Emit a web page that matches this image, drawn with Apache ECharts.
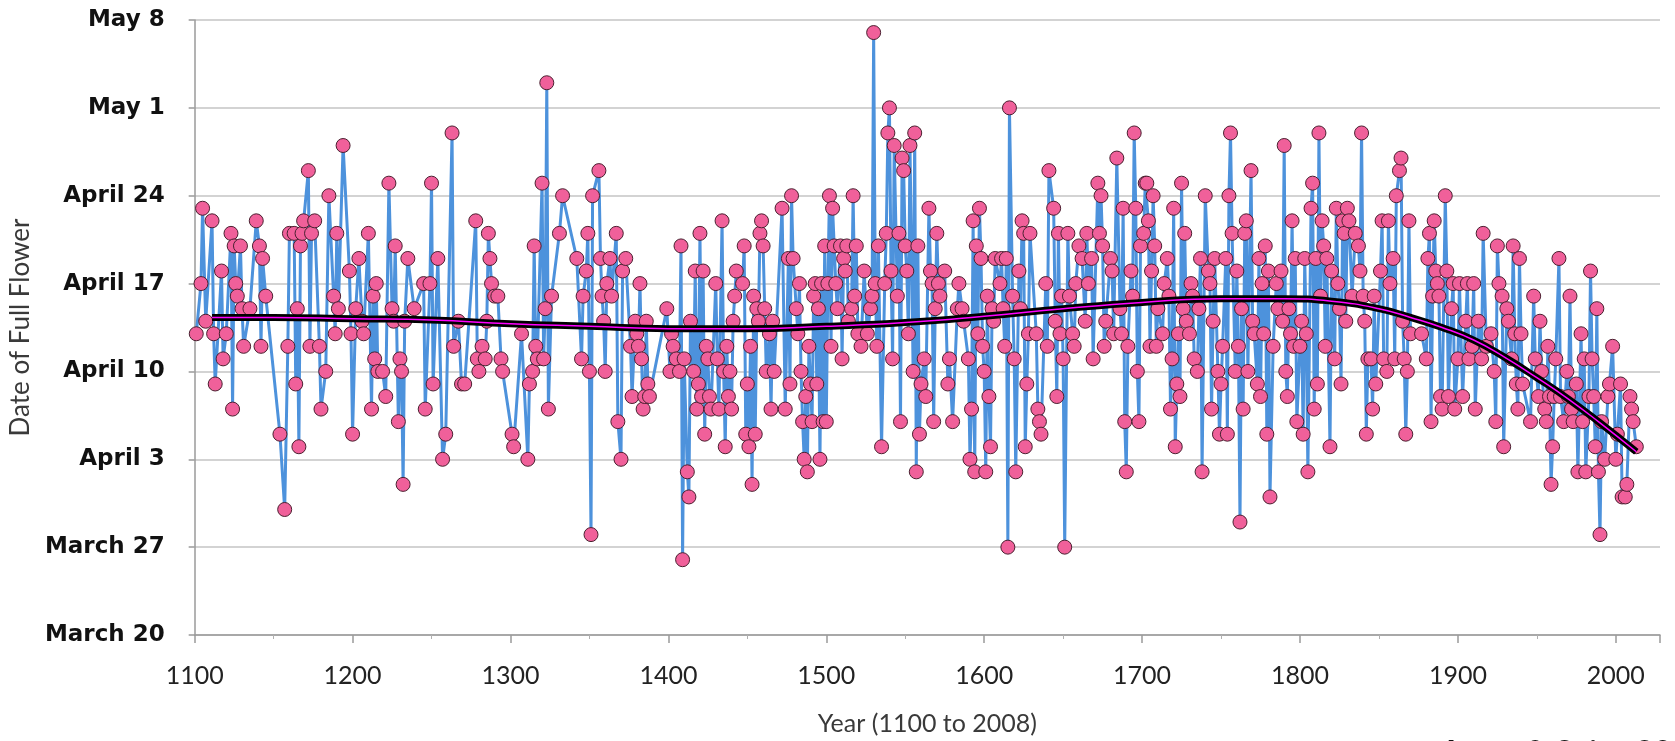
<!DOCTYPE html>
<html>
<head>
<meta charset="utf-8">
<title>Date of Full Flower</title>
<script src="https://cdn.jsdelivr.net/npm/echarts@6/dist/echarts.min.js"></script>
<style>
  html, body { margin: 0; padding: 0; background: #fff; }
  #chart { width: 1675px; height: 741px; }
</style>
</head>
<body>
<div id="chart"></div>
<script>
// y values are days after March 20
const dateLabels = ['March 20', 'March 27', 'April 3', 'April 10', 'April 17', 'April 24', 'May 1', 'May 8']

const years = [
  1101, 1104, 1105, 1107, 1111, 1112, 1113, 1117, 1118, 1120, 1123, 1124, 1125, 1126, 1127, 1129, 1130, 1131, 1135, 1139,
  1141, 1142, 1143, 1145, 1154, 1157, 1159, 1160, 1163, 1164, 1165, 1166, 1167, 1168, 1169, 1172, 1173, 1174, 1176, 1179,
  1180, 1183, 1185, 1188, 1189, 1190, 1191, 1194, 1198, 1199, 1200, 1202, 1204, 1206, 1207, 1210, 1212, 1213, 1214, 1215,
  1216, 1219, 1221, 1223, 1225, 1226, 1227, 1229, 1230, 1231, 1232, 1233, 1235, 1239,
  1245, 1246, 1249, 1250, 1251, 1254, 1257, 1259, 1263, 1264, 1267, 1269, 1271, 1278, 1279, 1280, 1282, 1284, 1285, 1286,
  1287, 1288, 1290, 1292, 1294, 1295, 1301, 1302, 1307, 1311, 1312, 1314, 1315, 1316, 1317, 1320, 1321, 1322, 1323, 1324,
  1326, 1331, 1333, 1342, 1345, 1346, 1348, 1349, 1350, 1351, 1352, 1356, 1357, 1358, 1359, 1360, 1361, 1363, 1364, 1367,
  1368, 1370, 1371, 1373, 1376, 1377, 1379, 1380, 1381, 1382, 1383, 1384, 1385, 1386, 1387, 1388,
  1399, 1401, 1402, 1403, 1405, 1407, 1408, 1409, 1410, 1412, 1413, 1414, 1416, 1417, 1418, 1419, 1420, 1421, 1422, 1423,
  1424, 1425, 1426, 1427, 1430, 1431, 1432, 1434, 1435, 1436, 1437, 1438, 1439, 1440, 1441, 1442, 1443, 1447, 1448, 1449,
  1450, 1451, 1452, 1453, 1454, 1455, 1456, 1457, 1458, 1459, 1460, 1461, 1462, 1464, 1465, 1466, 1467, 1472, 1474, 1476,
  1477, 1478, 1479, 1481, 1482, 1483, 1484, 1485, 1486, 1487, 1488, 1489, 1490, 1491, 1492, 1493, 1494, 1495, 1496, 1497,
  1498, 1499, 1500, 1501, 1502, 1503, 1504, 1505, 1506, 1507, 1509, 1510, 1511, 1512, 1513, 1514, 1516, 1517, 1518, 1519,
  1520, 1522, 1524, 1526, 1528, 1529, 1530, 1531, 1532, 1533, 1535, 1537, 1538, 1539, 1540, 1541, 1542, 1543,
  1545, 1546, 1547, 1548, 1549, 1550, 1551, 1552, 1553, 1555, 1556, 1557, 1558, 1559, 1560, 1562, 1563, 1565, 1566, 1567,
  1568, 1569, 1570, 1571, 1572, 1575, 1577, 1578, 1580, 1583, 1584, 1586, 1587, 1590, 1591, 1592, 1593, 1594, 1595, 1596,
  1597, 1598, 1599, 1600, 1601, 1602, 1603, 1604, 1605, 1606, 1607, 1610, 1611, 1612, 1613, 1614, 1615, 1616, 1618, 1619,
  1620, 1622, 1623, 1624, 1625, 1626, 1627, 1628, 1629, 1633, 1634, 1635, 1636, 1639, 1640, 1641, 1644, 1645, 1646, 1647,
  1648, 1649, 1650, 1651, 1653, 1654, 1656, 1657, 1658, 1660, 1662, 1664, 1665, 1666, 1668, 1669, 1672, 1673, 1674, 1675,
  1676, 1677, 1680, 1681, 1682, 1684, 1686, 1687, 1688, 1689, 1690, 1691, 1693, 1694, 1695, 1696, 1697, 1698,
  1699, 1701, 1702, 1703, 1704, 1705, 1706, 1707, 1708, 1709, 1710, 1713, 1714, 1716, 1717, 1718, 1719, 1720, 1721, 1722,
  1723, 1724, 1725, 1726, 1727, 1728, 1730, 1731, 1732, 1733, 1735, 1736, 1737, 1738, 1740, 1742, 1743, 1744, 1745, 1746,
  1748, 1749, 1750, 1751, 1753, 1754, 1755, 1756, 1757, 1759, 1760, 1761, 1762, 1763, 1764, 1765, 1766, 1767, 1769, 1770,
  1771, 1773, 1774, 1775, 1776, 1777, 1778, 1779, 1780, 1781, 1783, 1785, 1786, 1788, 1789, 1790, 1791, 1792, 1793, 1794,
  1795, 1796, 1797, 1798, 1800, 1801, 1802, 1803, 1804, 1805, 1807, 1808, 1809, 1810, 1811, 1812, 1813, 1814, 1815, 1816,
  1817, 1819, 1820, 1822, 1823, 1824, 1825, 1826, 1827, 1828, 1829, 1830, 1831, 1833, 1835, 1837, 1838, 1839, 1840, 1841,
  1842, 1843, 1845,
  1846, 1847, 1848, 1851, 1852, 1853, 1855, 1856, 1857, 1859, 1860, 1861, 1863, 1864, 1865, 1866, 1867, 1868, 1869, 1870,
  1877, 1880, 1881, 1882, 1883, 1884, 1885, 1886, 1887, 1888, 1889, 1890, 1892, 1893, 1894, 1896, 1897, 1898, 1900, 1901,
  1903, 1905, 1906, 1907, 1909, 1910, 1911, 1913, 1915, 1916, 1918, 1921, 1923, 1924, 1925, 1926, 1928, 1929, 1931, 1932,
  1934, 1935, 1936, 1937, 1938, 1939, 1940, 1941, 1946, 1948, 1949, 1951, 1952, 1953, 1955, 1956, 1957, 1958, 1959, 1960,
  1961, 1962, 1964, 1965, 1967, 1969, 1970, 1971, 1972, 1973, 1975, 1976, 1978, 1979, 1980, 1981, 1983, 1984, 1985, 1986,
  1987, 1988, 1989, 1990, 1991, 1993, 1995, 1996, 1998, 2000, 2001, 2003, 2004, 2006, 2007, 2009, 2010, 2011, 2013
]

const days = [
  24, 28, 34, 25, 33, 24, 20, 29, 22, 24, 32, 18, 31, 28, 27, 31, 26, 23, 26, 33,
  31, 23, 30, 27, 16, 10, 23, 32, 32, 20, 26, 15, 31, 32, 33, 37, 23, 32, 33, 23,
  18, 21, 35, 27, 24, 32, 26, 39, 29, 24, 16, 26, 30, 25, 24, 32, 18, 27, 22, 28,
  21, 21, 19, 36, 26, 25, 31, 17, 22, 21, 12, 25, 30, 26,
  28, 18, 28, 36, 20, 30, 14, 16, 40, 23, 25, 20, 20, 33, 22, 21, 23, 22, 25, 32,
  30, 28, 27, 27, 22, 21, 16, 15, 24, 14, 20, 21, 31, 23, 22, 36, 22, 26, 44, 18,
  27, 32, 35, 30, 22, 27, 29, 32, 21, 8, 35, 37, 30, 27, 25, 21, 28, 30, 27, 32,
  17, 14, 29, 30, 23, 19, 25, 24, 23, 28, 22, 18, 19, 25, 20, 19,
  26, 21, 24, 23, 22, 21, 31, 6, 22, 13, 11, 25, 21, 29, 18, 20, 32, 19, 29, 16,
  23, 22, 19, 18, 28, 22, 18, 33, 21, 15, 23, 19, 21, 18, 25, 27, 29, 28, 31, 16,
  20, 15, 23, 12, 27, 16, 26, 25, 32, 33, 31, 26, 21, 24, 18, 25, 21, 34, 18, 30,
  20, 35, 30, 26, 24, 28, 21, 17, 14, 19, 13, 23, 20, 17, 27, 28, 20, 26, 14, 28,
  17, 31, 17, 28, 35, 23, 34, 31, 28, 26, 31, 22, 30, 29, 31, 25, 26, 35, 27, 31,
  24, 23, 29, 24, 26, 27, 48, 28, 23, 31, 15, 28, 32, 40, 42, 29, 22, 39,
  27, 32, 17, 38, 37, 31, 29, 24, 39, 21, 40, 13, 31, 16, 20, 22, 19, 34, 29, 28,
  17, 26, 32, 28, 27, 29, 20, 22, 17, 26, 28, 26, 25, 22, 14, 18, 33, 13, 31, 24,
  34, 30, 23, 21, 13, 27, 19, 15, 26, 25, 30, 28, 30, 26, 23, 30, 7, 42, 27, 22,
  13, 29, 26, 33, 32, 15, 20, 24, 32, 24, 18, 17, 16, 28, 23, 37, 34, 25, 19, 32,
  24, 27, 22, 7, 32, 27, 24, 23, 28, 31, 30, 25, 32, 28, 30, 22, 36, 32, 35, 31,
  23, 25, 30, 29, 24, 38, 26, 24, 34, 17, 13, 23, 29, 27, 40, 34, 21, 17,
  31, 32, 36, 36, 33, 23, 29, 35, 31, 23, 26, 24, 28, 30, 27, 18, 22, 34, 15, 20,
  24, 19, 36, 26, 32, 25, 24, 28, 27, 22, 21, 26, 30, 13, 35, 29, 28, 18, 25, 30,
  21, 16, 20, 23, 30, 16, 35, 40, 32, 21, 29, 23, 9, 26, 18, 32, 33, 21, 37, 25,
  24, 20, 30, 19, 28, 24, 31, 16, 29, 11, 23, 28, 26, 29, 25, 39, 21, 19, 26, 24,
  33, 23, 30, 17, 23, 25, 16, 30, 24, 13, 34, 36, 18, 30, 20, 40, 27, 33, 31, 23,
  30, 15, 29, 22, 34, 28, 26, 20, 33, 32, 25, 34, 33, 27, 32, 31, 29, 40, 27, 25,
  16, 22, 22,
  18, 27, 20, 29, 33, 22, 21, 33, 28, 30, 22, 35, 37, 38, 25, 22, 16, 21, 33, 24,
  24, 22, 30, 32, 17, 27, 33, 29, 28, 27, 19, 18, 35, 29, 19, 26, 28, 18, 22, 28,
  19, 25, 28, 22, 23, 28, 18, 25, 22, 32, 23, 24, 21, 17, 31, 28, 27, 15, 26, 25,
  22, 31, 24, 20, 18, 30, 24, 20, 17, 27, 22, 19, 25, 21, 18, 17, 23, 19, 12, 15,
  19, 22, 30, 19, 17, 21, 19, 27, 18, 17, 20, 13, 24, 17, 22, 13, 19, 29, 22, 19,
  15, 26, 13, 8, 17, 14, 19, 20, 23, 14, 16, 20, 11, 11, 12, 19, 18, 17, 15
]

// smoothed trend
const trendYears = [1111, 1150, 1200, 1250, 1300, 1350, 1400, 1450, 1500, 1550, 1600, 1650, 1700, 1750, 1790, 1820, 1850, 1870, 1890, 1910, 1930, 1950, 1970, 1990, 2013]
const trendDays = [25.3, 25.3, 25.2, 25.1, 24.8, 24.6, 24.4, 24.4, 24.6, 24.9, 25.4, 26.0, 26.5, 26.8, 26.8, 26.6, 26.0, 25.3, 24.5, 23.5, 22.1, 20.5, 18.8, 16.9, 14.6]

const flowerData = years.map((y, i) => [y, days[i]])
const trendData = trendYears.map((y, i) => [y, trendDays[i]])

const chart = echarts.init(document.getElementById('chart'))

const option = {
  animation: false,
  backgroundColor: '#ffffff',
  grid: {
    left: 191,
    right: 15,
    top: 20,
    bottom: 106
  },
  xAxis: {
    type: 'value',
    min: 1100,
    max: 2028,
    interval: 100,
    name: 'Year (1100 to 2008)',
    nameLocation: 'middle',
    nameGap: 76,
    nameTextStyle: {
      fontFamily: 'Lato',
      fontSize: 25,
      color: '#3a3a3a'
    },
    axisLine: { lineStyle: { color: '#9a9a9a', width: 1.5 } },
    axisTick: { length: 8, lineStyle: { color: '#9a9a9a', width: 1.5 } },
    minorTick: { show: true, splitNumber: 2, length: 4, lineStyle: { color: '#b0b0b0' } },
    axisLabel: {
      margin: 28,
      fontFamily: 'Lato',
      fontSize: 25,
      color: '#222',
      showMaxLabel: false,
      formatter: v => (v % 100 === 0 ? String(v) : '')
    },
    splitLine: { show: false }
  },
  yAxis: {
    type: 'value',
    min: 0,
    max: 49,
    interval: 7,
    name: 'Date of Full Flower',
    nameLocation: 'middle',
    nameRotate: 90,
    nameGap: 158,
    nameTextStyle: {
      fontFamily: 'Lato',
      fontSize: 26,
      color: '#3a3a3a'
    },
    axisLine: { show: true, lineStyle: { color: '#9a9a9a', width: 1.5 } },
    axisTick: { show: true, length: 6, lineStyle: { color: '#9a9a9a', width: 1.5 } },
    axisLabel: {
      margin: 30,
      fontFamily: 'DejaVu Sans',
      fontWeight: 'bold',
      fontSize: 23,
      color: '#111',
      formatter: v => dateLabels[Math.round(v / 7)]
    },
    splitLine: { lineStyle: { color: '#c4c4c4', width: 1.5 } }
  },
  series: [
    {
      name: 'Full flower',
      type: 'line',
      data: flowerData,
      showAllSymbol: true,
      symbol: 'circle',
      symbolSize: 14,
      lineStyle: { color: '#4d92dc', width: 3 },
      itemStyle: { color: '#f0609a', borderColor: '#4a2030', borderWidth: 1 },
      z: 2
    },
    {
      name: 'Trend outline',
      type: 'line',
      data: trendData,
      smooth: true,
      showSymbol: false,
      lineStyle: { color: '#000000', width: 7 },
      z: 3
    },
    {
      name: 'Trend',
      type: 'line',
      data: trendData,
      smooth: true,
      showSymbol: false,
      lineStyle: { color: '#ff00ff', width: 1.5 },
      z: 4
    }
  ],
  graphic: [
    {
      type: 'text',
      left: 1440,
      top: 738,
      style: {
        text: 'Aono & Saito 2010',
        fontFamily: 'Lato',
        fontWeight: 'bold',
        fontSize: 32,
        fill: '#111'
      }
    }
  ]
}

chart.setOption(option)
</script>
</body>
</html>
